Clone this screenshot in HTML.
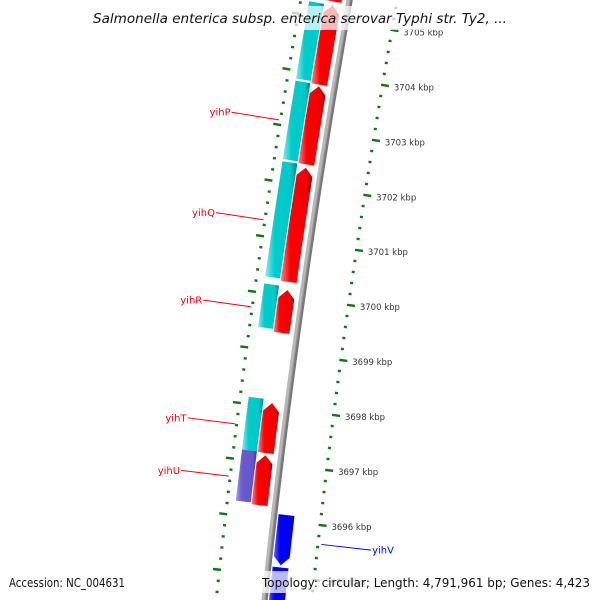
<!DOCTYPE html>
<html><head><meta charset="utf-8"><style>
html,body{margin:0;padding:0;background:#fff;overflow:hidden;width:600px;height:600px;}
svg{display:block;}
</style></head><body>
<svg id="map" width="600" height="600" viewBox="0 0 600 600" xmlns="http://www.w3.org/2000/svg">
<defs>
<linearGradient id="gRed" x1="0" x2="1" y1="0" y2="0"><stop offset="0" stop-color="#ff8080"/><stop offset="0.3" stop-color="#ff0000"/><stop offset="0.8" stop-color="#f00000"/><stop offset="1" stop-color="#a00000"/></linearGradient>
<linearGradient id="gCyan" x1="0" x2="1" y1="0" y2="0"><stop offset="0" stop-color="#80eeee"/><stop offset="0.3" stop-color="#00cccc"/><stop offset="0.8" stop-color="#00c8c8"/><stop offset="1" stop-color="#008080"/></linearGradient>
<linearGradient id="gPurple" x1="0" x2="1" y1="0" y2="0"><stop offset="0" stop-color="#a89ae8"/><stop offset="0.3" stop-color="#6a5acd"/><stop offset="0.8" stop-color="#6656c8"/><stop offset="1" stop-color="#40348a"/></linearGradient>
<linearGradient id="gBlue" x1="0" x2="1" y1="0" y2="0"><stop offset="0" stop-color="#6060ff"/><stop offset="0.3" stop-color="#0000ff"/><stop offset="0.8" stop-color="#0000f0"/><stop offset="1" stop-color="#0000a0"/></linearGradient>
</defs>
<g id="ticks"></g>
<g id="backbone"></g>
<g id="genes"></g>
<g id="labels"></g>
<rect x="88" y="6" width="426" height="24" fill="#fff" opacity="0.72"/>
<text x="93" y="23" font-family="DejaVu Sans, sans-serif" font-style="italic" font-size="13.5" fill="#111" textLength="414" lengthAdjust="spacingAndGlyphs">Salmonella enterica subsp. enterica serovar Typhi str. Ty2, ...</text>
<rect x="5" y="571" width="145" height="22" fill="#fff" opacity="0.72"/>
<text x="9" y="587" font-family="DejaVu Sans, sans-serif" font-size="12" fill="#111" textLength="116" lengthAdjust="spacingAndGlyphs">Accession: NC_004631</text>
<rect x="258" y="571" width="337" height="22" fill="#fff" opacity="0.72"/>
<text x="262" y="587" font-family="DejaVu Sans, sans-serif" font-size="12" fill="#111" textLength="328" lengthAdjust="spacingAndGlyphs">Topology: circular; Length: 4,791,961 bp; Genes: 4,423</text>
</svg>
<script>
const geneNames = ["", "yihP", "yihQ", "yihR", "yihT", "yihU", "yihV", "", ""];
const geneStarts = [3703.82, 3702.38, 3700.26, 3699.34, 3697.17, 3696.23, 3695.20, 3694.28, 3705.32];
const geneEnds = [3705.25, 3703.79, 3702.32, 3700.11, 3698.07, 3697.13, 3696.11, 3695.16, 3706.60];
const geneStrands = [1, 1, 1, 1, 1, 1, -1, -1, 1];
const cogStarts = [3703.86, 3702.41, 3700.30, 3699.39, 3697.18, 3696.26, 3705.32];
const cogEnds = [3705.25, 3703.82, 3702.37, 3700.17, 3698.13, 3697.18, 3706.60];
const cogColors = ["cyan", "cyan", "cyan", "cyan", "cyan", "purple", "cyan"];
const tickLabels = [3705, 3704, 3703, 3702, 3701, 3700, 3699, 3698, 3697, 3696, 3695];

const NS = "http://www.w3.org/2000/svg";
function yOf(k){ return 22 + (3705 - k) * 55.3; }
function fx(y){ return 350 - 0.1767*y + 5.83e-5*y*y; }
function fd(y){ return -0.1767 + 2*5.83e-5*y; }
function pt(k, r){
  const y = yOf(k), x = fx(y), d = fd(y);
  const n = Math.sqrt(1 + d*d);
  return [x + r/n, y - r*d/n];
}
function mk(tag, attrs, parent){
  const e = document.createElementNS(NS, tag);
  for (const a in attrs) e.setAttribute(a, attrs[a]);
  parent.appendChild(e); return e;
}
function ptsStr(arr){ return arr.map(p => p[0].toFixed(2)+","+p[1].toFixed(2)).join(" "); }
function edge(k1, k2, r){ const out=[]; for(let i=0;i<=8;i++){ out.push(pt(k1+(k2-k1)*i/8, r)); } return out; }

// backbone
const bb = document.getElementById('backbone');
const kTop = 3706, kBot = 3694;
[[-2, "#b8b8b8", 3], [1.2, "#777", 3.2], [0, "#999", 1.2]].forEach(([r, c, w]) => {
  const o = [];
  for (let i = 0; i <= 60; i++) o.push(pt(kTop + (kBot - kTop) * i / 60, r));
  const pl = mk('polyline', {points: ptsStr(o), fill:"none", stroke:c, "stroke-width":w}, bb);
  
  
});

// ticks
const tg = document.getElementById('ticks');
const outerR = 45, innerR = -47;
for (let i = 0; i <= 60; i++) {
  const kr = Math.round((3694 + i * 0.2) * 10) / 10;
  const major = Math.abs(kr - Math.round(kr)) < 0.001;
  const len = major ? 8 : 3;
  const a = pt(kr, outerR), b = pt(kr, outerR + len);
  const l1 = mk('line', {x1:a[0], y1:a[1], x2:b[0], y2:b[1], stroke:"#0a7a0a", "stroke-width":2.4}, tg);
  
  
  const c = pt(kr, innerR), d = pt(kr, innerR - len);
  const l2 = mk('line', {x1:c[0], y1:c[1], x2:d[0], y2:d[1], stroke:"#0a7a0a", "stroke-width":2.4}, tg);
  
  
}
tickLabels.forEach(k => {
  const p = pt(k, 58);
  const t = mk('text', {x:p[0], y:p[1]+3.5, "font-family":"DejaVu Sans, sans-serif", "font-size":"8.5", fill:"#333"}, tg);
  t.textContent = k + " kbp";
  
  
});

// genes
const gg = document.getElementById('genes');
const head = 0.15;
geneStarts.forEach((s, i) => {
  const e = geneEnds[i], st = geneStrands[i];
  const r0 = st > 0 ? -24 : 4, r1 = st > 0 ? -8 : 20, rm = (r0 + r1) / 2;
  let poly;
  if (st > 0) {
    poly = edge(s, e - head, r0).concat([pt(e, rm)]).concat(edge(e - head, s, r1));
  } else {
    poly = edge(e, s + head, r0).concat([pt(s, rm)]).concat(edge(s + head, e, r1));
  }
  const g = mk('polygon', {points: ptsStr(poly), fill: st > 0 ? "url(#gRed)" : "url(#gBlue)"}, gg);
  
  
});
cogStarts.forEach((s, i) => {
  const e = cogEnds[i];
  const poly = edge(s, e, -40).concat(edge(e, s, -25));
  const g = mk('polygon', {points: ptsStr(poly), fill: cogColors[i] === "cyan" ? "url(#gCyan)" : "url(#gPurple)"}, gg);
  
  
});

// labels
const lg = document.getElementById('labels');
geneNames.forEach((nm, i) => {
  if (!nm) return;
  const k = (geneStarts[i] + geneEnds[i]) / 2;
  const st = geneStrands[i];
  const col = st > 0 ? "#ff0000" : "#0000ff";
  const a = pt(k, st > 0 ? -50 : 50), b = pt(k, st > 0 ? -98 : 100);
  const l = mk('line', {x1:a[0], y1:a[1], x2:b[0], y2:b[1], stroke:col, "stroke-width":1}, lg);
  
  
  const t = mk('text', {x: st > 0 ? b[0]-1 : b[0]+1, y: b[1]+3.5, "text-anchor": st > 0 ? "end" : "start", "font-family":"DejaVu Sans, sans-serif", "font-size":"10", fill: col}, lg);
  t.textContent = nm;
  
  
});
</script>
</body></html>
